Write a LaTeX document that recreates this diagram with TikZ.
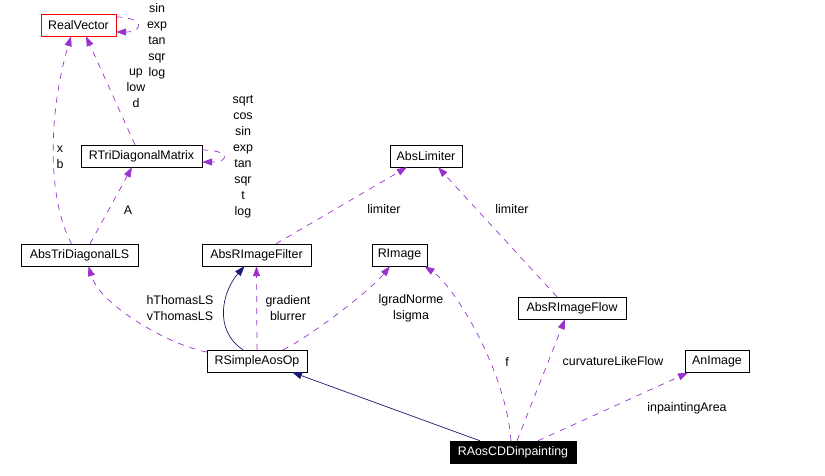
\documentclass[tikz,border=0pt]{standalone}
\usepackage{fontspec}
\setmainfont{Liberation Sans}
\usetikzlibrary{arrows.meta}
\definecolor{orchid}{HTML}{9A32CD}
\definecolor{navyline}{HTML}{191970}

\begin{document}
\begin{tikzpicture}[x=1pt, y=-1pt, every node/.style={font=\fontsize{12.4}{16}\selectfont}, cls/.style={draw,minimum height=22pt,inner sep=0pt}, lbl/.style={align=center,inner sep=0pt}, coll/.style={draw=orchid,line width=0.7pt,dash pattern=on 6pt off 6pt,->}, inh/.style={draw=navyline,line width=0.7pt,->}, >={Triangle[length=10pt,width=7pt]}]
\useasboundingbox (0,0) rectangle (825,476);
% classes
\node[cls, draw=red, minimum width=75pt] (rv) at (78.5,25) {RealVector};
\node[cls, minimum width=121pt] (rtdm) at (141.5,156) {RTriDiagonalMatrix};
\node[cls, minimum width=72pt] (al) at (426,156) {AbsLimiter};
\node[cls, minimum width=117pt] (tdls) at (79.5,255) {AbsTriDiagonalLS};
\node[cls, minimum width=109pt] (arif) at (256.5,255) {AbsRImageFilter};
\node[cls, minimum width=55pt] (ri) at (399.5,255) {RImage};
\node[cls, minimum width=108pt] (arfl) at (572,308) {AbsRImageFlow};
\node[cls, minimum width=100pt] (rsao) at (257,361) {RSimpleAosOp};
\node[cls, minimum width=64pt] (ai) at (717,361.5) {AnImage};
\node[cls, fill=black, text=white, minimum width=126pt] (racd) at (513,452) {RAosCDDinpainting};
% member labels
\node[lbl] (lrvops) at (157,41.5) {sin\\exp\\tan\\sqr\\log};
\node[lbl] (lup) at (136,88) {up\\low\\d};
\node[lbl] (lx) at (60,157) {x\\b};
\node[lbl] (lrtops) at (243,157) {sqrt\\cos\\sin\\exp\\tan\\sqr\\t\\log};
\node[lbl] (la) at (128,210) {A};
\node[lbl] (llim1) at (384,209) {limiter};
\node[lbl] (llim2) at (512,209) {limiter};
\node[lbl] (lthomas) at (180,308) {hThomasLS\\vThomasLS};
\node[lbl] (lgrad) at (288,308) {gradient\\blurrer};
\node[lbl] (lgrn) at (411,308) {lgradNorme\\lsigma};
\node[lbl] (lf) at (507,362) {f};
\node[lbl] (lclf) at (613,361) {curvatureLikeFlow};
\node[lbl] (lia) at (687,408) {inpaintingArea};
% usage relations
\draw[coll] ([yshift=8pt]rv.east) .. controls +(28,0) and +(28,0) .. ([yshift=-7pt]rv.east);
\draw[coll] ([yshift=6pt]rtdm.east) .. controls +(28,0) and +(28,0) .. ([yshift=-6pt]rtdm.east);
\draw[coll] ([xshift=-8pt]tdls.north) .. controls +(-22,-40) and +(-25,85) .. ([xshift=-7.5pt]rv.south);
\draw[coll] ([xshift=-6.5pt]rtdm.north) -- ([xshift=7.5pt]rv.south);
\draw[coll] ([xshift=10.5pt]tdls.north) -- ([xshift=-9.5pt]rtdm.south);
\draw[coll] ([xshift=19.5pt]arif.north) -- ([xshift=-19pt]al.south);
\draw[coll] ([xshift=-15pt]arfl.north) -- ([xshift=12pt]al.south);
\draw[coll] ([yshift=9pt]rsao.west) .. controls +(-35,-6) and +(12,40) .. ([xshift=9pt]tdls.south);
\draw[coll] (rsao.north) -- (arif.south);
\draw[coll] ([xshift=26pt]rsao.north) .. controls +(25,-12) and +(-20,25) .. ([xshift=-9.5pt]ri.south);
\draw[coll] ([xshift=-2pt]racd.north) .. controls +(-5,-70) and +(30,20) .. ([xshift=25pt]ri.south);
\draw[coll] ([xshift=4pt]racd.north) -- ([xshift=-7pt]arfl.south);
\draw[coll] ([xshift=25pt]racd.north) -- ([xshift=-29pt]ai.south);
% inheritance
\draw[inh] ([xshift=-14pt]rsao.north) .. controls +(-30,-20) and +(-22,25) .. ([xshift=-12pt]arif.south);
\draw[inh] ([xshift=-33pt]racd.north) -- ([xshift=35pt]rsao.south);
\end{tikzpicture}
\end{document}
